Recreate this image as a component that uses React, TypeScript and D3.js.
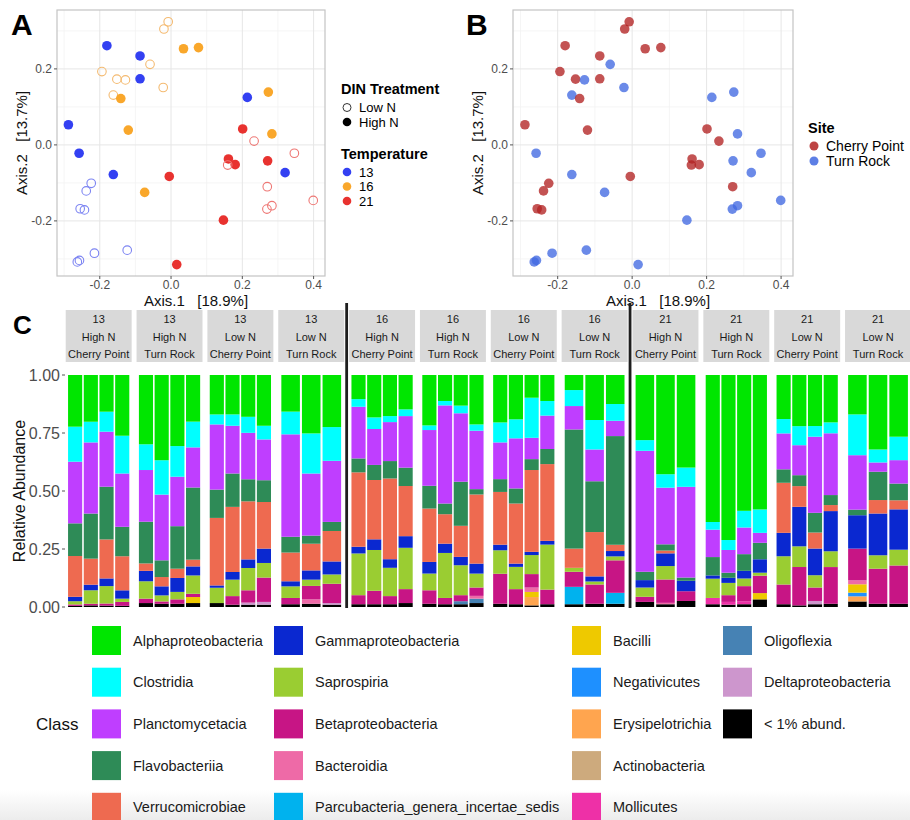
import React from "react";
import * as d3 from "d3";

// ---- panel A / B : ordination points ----
// t = temperature, n = DIN treatment, s = site
const ordPoints = [
  { x: -0.008, y: 0.324, t: 16, n: "Low", s: "CP" },
  { x: -0.02, y: 0.305, t: 16, n: "Low", s: "CP" },
  { x: -0.059, y: 0.212, t: 16, n: "Low", s: "TR" },
  { x: -0.194, y: 0.193, t: 16, n: "Low", s: "CP" },
  { x: -0.152, y: 0.173, t: 16, n: "Low", s: "CP" },
  { x: -0.128, y: 0.171, t: 16, n: "Low", s: "TR" },
  { x: -0.022, y: 0.151, t: 16, n: "Low", s: "TR" },
  { x: -0.162, y: 0.131, t: 16, n: "Low", s: "TR" },
  { x: 0.035, y: 0.253, t: 16, n: "High", s: "CP" },
  { x: 0.077, y: 0.256, t: 16, n: "High", s: "CP" },
  { x: -0.141, y: 0.122, t: 16, n: "High", s: "CP" },
  { x: -0.12, y: 0.039, t: 16, n: "High", s: "CP" },
  { x: -0.074, y: -0.125, t: 16, n: "High", s: "TR" },
  { x: 0.273, y: 0.139, t: 16, n: "High", s: "TR" },
  { x: 0.283, y: 0.029, t: 16, n: "High", s: "TR" },
  { x: -0.18, y: 0.261, t: 13, n: "High", s: "CP" },
  { x: -0.087, y: 0.234, t: 13, n: "High", s: "CP" },
  { x: -0.087, y: 0.174, t: 13, n: "High", s: "CP" },
  { x: 0.214, y: 0.125, t: 13, n: "High", s: "TR" },
  { x: -0.288, y: 0.053, t: 13, n: "High", s: "CP" },
  { x: -0.258, y: -0.022, t: 13, n: "High", s: "TR" },
  { x: -0.162, y: -0.078, t: 13, n: "High", s: "TR" },
  { x: 0.32, y: -0.073, t: 13, n: "High", s: "TR" },
  { x: -0.224, y: -0.101, t: 13, n: "Low", s: "CP" },
  { x: -0.238, y: -0.121, t: 13, n: "Low", s: "CP" },
  { x: -0.255, y: -0.168, t: 13, n: "Low", s: "CP" },
  { x: -0.243, y: -0.171, t: 13, n: "Low", s: "CP" },
  { x: -0.215, y: -0.285, t: 13, n: "Low", s: "TR" },
  { x: -0.123, y: -0.277, t: 13, n: "Low", s: "TR" },
  { x: -0.263, y: -0.308, t: 13, n: "Low", s: "TR" },
  { x: -0.257, y: -0.304, t: 13, n: "Low", s: "TR" },
  { x: 0.201, y: 0.042, t: 21, n: "High", s: "CP" },
  { x: 0.161, y: -0.037, t: 21, n: "High", s: "CP" },
  { x: 0.18, y: -0.052, t: 21, n: "High", s: "CP" },
  { x: 0.271, y: -0.042, t: 21, n: "High", s: "TR" },
  { x: -0.005, y: -0.083, t: 21, n: "High", s: "CP" },
  { x: 0.147, y: -0.198, t: 21, n: "High", s: "TR" },
  { x: 0.016, y: -0.315, t: 21, n: "High", s: "TR" },
  { x: 0.233, y: 0.01, t: 21, n: "Low", s: "CP" },
  { x: 0.346, y: -0.022, t: 21, n: "Low", s: "TR" },
  { x: 0.159, y: -0.053, t: 21, n: "Low", s: "CP" },
  { x: 0.27, y: -0.11, t: 21, n: "Low", s: "CP" },
  { x: 0.283, y: -0.16, t: 21, n: "Low", s: "TR" },
  { x: 0.269, y: -0.169, t: 21, n: "Low", s: "TR" },
  { x: 0.399, y: -0.146, t: 21, n: "Low", s: "TR" },
];

const ordXTicks = [-0.2, 0, 0.2, 0.4];
const ordXMinor = [-0.3, -0.1, 0.1, 0.3];
const ordYTicks = [-0.2, 0, 0.2];
const ordYMinor = [-0.3, -0.1, 0.1, 0.3];

const tempLevels = [13, 16, 21];
const tempFill = ["#3340F2", "#F9A72B", "#E8322F"];
const tempStroke = ["#7C84F2", "#F4BA70", "#EE7774"];
const dinLevels = ["Low N", "High N"];
const siteLevels = ["CP", "TR"];
const siteNames = ["Cherry Point", "Turn Rock"];
const siteColors = ["#B22222", "#4169E1"];

// ---- panel C : relative abundance ----
const classKeys = ["al", "cl", "pl", "fl", "ve", "ga", "sa", "be", "bd", "pa", "bc", "ne", "er", "ac", "mo", "ol", "de", "lo"];
const classNames = [
  "Alphaproteobacteria", "Clostridia", "Planctomycetacia", "Flavobacteriia", "Verrucomicrobiae",
  "Gammaproteobacteria", "Saprospiria", "Betaproteobacteria", "Bacteroidia", "Parcubacteria_genera_incertae_sedis",
  "Bacilli", "Negativicutes", "Erysipelotrichia", "Actinobacteria", "Mollicutes",
  "Oligoflexia", "Deltaproteobacteria", "< 1% abund.",
];
const classColors = [
  "#00E600", "#00FFFF", "#BF3EFF", "#2E8B57", "#EE6A50",
  "#0A28D0", "#9ACD32", "#C71585", "#EE6AA7", "#00B2EE",
  "#EEC900", "#1E90FF", "#FFA54F", "#CDAA7D", "#EE30A7",
  "#4682B4", "#CD96CD", "#000000",
];

const facetTemp = ["13", "13", "13", "13", "16", "16", "16", "16", "21", "21", "21", "21"];
const facetDin = ["High N", "High N", "Low N", "Low N", "High N", "High N", "Low N", "Low N", "High N", "High N", "Low N", "Low N"];
const facetSite = ["Cherry Point", "Turn Rock", "Cherry Point", "Turn Rock", "Cherry Point", "Turn Rock", "Cherry Point", "Turn Rock", "Cherry Point", "Turn Rock", "Cherry Point", "Turn Rock"];

// percent abundances per sample, f = facet index
const samples: any[] = [
  { f: 0, al: 22.3, cl: 15.1, pl: 26.6, fl: 14.1, ve: 17.6, ga: 1.9, sa: 1.4, be: 0.6, lo: 0.5 },
  { f: 0, al: 20.1, cl: 8.9, pl: 30.6, fl: 19.4, ve: 11.2, ga: 2.4, sa: 5.8, be: 0.7, lo: 0.7 },
  { f: 0, al: 15.8, cl: 8.6, pl: 23.7, fl: 22.7, ve: 16.8, ga: 3.3, sa: 7.5, be: 0.9, lo: 0.6 },
  { f: 0, al: 26.2, cl: 16.3, pl: 23.0, fl: 12.7, ve: 14.7, ga: 3.6, sa: 1.4, be: 1.7, lo: 0.5 },

  { f: 1, al: 29.9, cl: 11.1, pl: 22.3, fl: 18.0, ve: 3.2, ga: 4.5, sa: 7.5, be: 1.9, lo: 1.7 },
  { f: 1, al: 36.7, cl: 14.8, pl: 28.3, fl: 7.2, ve: 4.0, ga: 3.9, sa: 2.6, be: 1.0, lo: 1.4 },
  { f: 1, al: 30.6, cl: 13.2, pl: 21.3, fl: 18.3, ve: 4.0, ga: 6.0, sa: 3.2, be: 1.9, lo: 1.4 },
  { f: 1, al: 20.1, cl: 11.1, pl: 17.3, fl: 31.1, ve: 2.9, ga: 3.9, sa: 7.9, be: 1.4, bc: 2.6, lo: 1.7 },

  { f: 2, al: 17.0, cl: 4.3, pl: 28.1, fl: 12.2, ve: 29.1, ga: 1.0, sa: 6.6, lo: 1.7 },
  { f: 2, al: 17.0, cl: 4.9, pl: 20.6, fl: 14.4, ve: 28.1, ga: 3.3, sa: 7.1, be: 3.7, lo: 1.0 },
  { f: 2, al: 18.0, cl: 6.9, pl: 20.0, fl: 9.5, ve: 25.0, ga: 3.7, sa: 9.6, be: 5.3, de: 0.9, lo: 1.0 },
  { f: 2, al: 21.9, cl: 5.9, pl: 17.6, fl: 9.4, ve: 20.1, ga: 6.2, sa: 6.3, be: 10.5, de: 1.2, lo: 1.0 },

  { f: 3, al: 15.8, cl: 9.8, pl: 44.2, fl: 6.8, ve: 12.4, ga: 2.2, sa: 5.0, be: 2.7, lo: 1.2 },
  { f: 3, al: 25.2, cl: 17.3, pl: 26.8, fl: 3.5, ve: 11.5, ga: 4.0, sa: 2.7, be: 5.8, bd: 1.9, lo: 1.4 },
  { f: 3, al: 22.4, cl: 14.5, pl: 26.3, fl: 3.9, ve: 13.1, ga: 5.6, sa: 4.0, be: 8.3, de: 0.7, lo: 1.0 },

  { f: 4, al: 10.4, cl: 3.3, pl: 22.3, fl: 6.0, ve: 32.1, ga: 2.9, sa: 18.0, be: 3.9, lo: 1.2 },
  { f: 4, al: 18.3, cl: 5.0, pl: 15.5, fl: 6.5, ve: 25.6, ga: 4.6, sa: 17.6, be: 5.8, lo: 1.2 },
  { f: 4, al: 17.7, cl: 2.6, pl: 16.8, fl: 7.5, ve: 34.8, ga: 3.7, sa: 12.2, be: 3.5, lo: 1.2 },
  { f: 4, al: 14.8, cl: 2.9, pl: 22.2, fl: 7.9, ve: 21.6, ga: 5.0, sa: 17.8, be: 6.0, lo: 1.7 },

  { f: 5, al: 21.7, cl: 2.0, pl: 24.0, fl: 9.8, ve: 23.0, ga: 5.0, sa: 7.2, be: 5.8, lo: 1.4 },
  { f: 5, al: 11.2, cl: 1.9, pl: 42.3, fl: 4.6, ve: 12.7, ga: 4.0, sa: 19.4, be: 2.7, lo: 1.2 },
  { f: 5, al: 13.2, cl: 3.3, pl: 29.5, fl: 19.0, ve: 13.4, ga: 3.6, sa: 12.9, be: 2.6, ol: 1.3, lo: 1.2 },
  { f: 5, al: 21.3, cl: 2.7, pl: 25.2, fl: 2.3, ve: 29.8, ga: 4.3, sa: 6.0, be: 3.6, bd: 1.2, ol: 1.9, lo: 1.7 },

  { f: 6, al: 20.4, cl: 8.6, pl: 15.8, fl: 5.5, ve: 22.7, ga: 2.4, sa: 10.1, be: 12.9, lo: 1.4 },
  { f: 6, al: 19.1, cl: 8.2, pl: 21.6, fl: 6.5, ve: 25.9, ga: 1.4, sa: 9.6, be: 6.5, lo: 1.2 },
  { f: 6, al: 9.8, cl: 17.3, pl: 9.2, fl: 4.7, ve: 35.3, ga: 1.4, sa: 8.2, be: 5.8, bd: 1.9, bc: 2.2, er: 3.6, lo: 0.7 },
  { f: 6, al: 11.2, cl: 6.3, pl: 14.4, fl: 6.5, ve: 33.1, ga: 1.6, sa: 19.4, be: 6.3, lo: 1.2 },

  { f: 7, al: 6.5, cl: 6.9, pl: 10.1, fl: 51.4, ve: 8.3, sa: 1.7, be: 6.5, pa: 7.5, lo: 1.2 },
  { f: 7, al: 19.4, cl: 12.7, pl: 13.7, fl: 21.9, ve: 19.1, ga: 2.2, sa: 1.3, be: 8.3, lo: 1.4 },
  { f: 7, al: 12.5, cl: 7.2, pl: 6.6, fl: 46.8, ve: 2.7, ga: 2.3, sa: 1.7, be: 14.0, pa: 4.7, lo: 1.4 },

  { f: 8, al: 28.1, cl: 4.6, pl: 52.2, fl: 3.6, ga: 3.2, sa: 4.0, be: 2.2, lo: 2.2 },
  { f: 8, al: 42.9, cl: 5.8, pl: 24.5, fl: 2.7, ve: 1.2, ga: 5.5, sa: 5.8, be: 10.1, bd: 0.6, lo: 1.2 },
  { f: 8, al: 39.9, cl: 8.3, pl: 39.1, fl: 1.4, ga: 4.5, be: 4.2, lo: 2.6 },

  { f: 9, al: 63.3, cl: 3.3, pl: 11.8, fl: 7.9, ga: 1.4, sa: 8.3, mo: 2.7, lo: 1.2 },
  { f: 9, al: 71.2, cl: 4.3, pl: 9.8, fl: 2.2, ga: 2.2, sa: 5.3, be: 2.9, mo: 1.2, lo: 1.0 },
  { f: 9, al: 58.6, cl: 7.2, pl: 11.5, fl: 7.2, ga: 3.3, sa: 3.3, be: 6.5, mo: 1.3, lo: 1.2 },
  { f: 9, al: 58.0, cl: 10.1, pl: 4.3, fl: 7.1, ga: 5.8, sa: 1.3, be: 7.5, bc: 2.7, lo: 3.3 },

  { f: 10, al: 19.0, cl: 6.2, pl: 15.5, fl: 5.8, ve: 21.6, ga: 10.1, sa: 12.2, be: 8.5, lo: 1.2 },
  { f: 10, al: 22.0, cl: 8.2, pl: 12.9, fl: 4.7, ve: 8.9, ga: 17.0, sa: 8.9, be: 16.5, lo: 0.7 },
  { f: 10, al: 22.0, cl: 4.6, pl: 32.8, fl: 8.5, ve: 6.9, ga: 11.5, sa: 5.3, be: 5.8, de: 1.4, lo: 1.2 },
  { f: 10, al: 20.4, cl: 4.7, pl: 26.6, fl: 4.3, ve: 2.6, ga: 17.3, sa: 6.8, be: 15.8, lo: 1.4 },

  { f: 11, al: 17.0, cl: 17.6, pl: 23.5, fl: 2.4, ga: 14.4, be: 13.7, bd: 1.7, bc: 3.6, ne: 1.6, er: 2.2, lo: 2.4 },
  { f: 11, al: 32.1, cl: 5.6, pl: 4.0, fl: 12.2, ve: 5.8, ga: 18.0, sa: 5.8, be: 15.1, lo: 1.4 },
  { f: 11, al: 26.6, cl: 10.1, pl: 10.1, fl: 7.2, ve: 3.9, ga: 17.4, sa: 6.8, be: 16.5, lo: 1.4 },
];

const abundTicks = [0, 0.25, 0.5, 0.75, 1];

const FONT = "'Liberation Sans', Arial, Helvetica, sans-serif";

function Ordination({ x0, x1, fillOf, strokeOf, filledOf, opacity }: any) {
  const xs = d3.scaleLinear().domain([-0.32, 0.432]).range([x0, x1]);
  const ys = d3.scaleLinear().domain([-0.345, 0.355]).range([276, 10]);
  const [top, bottom] = [ys.range()[1], ys.range()[0]];
  return (
    <g>
      <rect x={x0} y={top} width={x1 - x0} height={bottom - top} fill="#fff" />
      {ordXMinor.map((v) => (
        <line key={"xm" + v} x1={xs(v)} x2={xs(v)} y1={top} y2={bottom} stroke="#F2F2F2" strokeWidth={0.8} />
      ))}
      {ordYMinor.map((v) => (
        <line key={"ym" + v} x1={x0} x2={x1} y1={ys(v)} y2={ys(v)} stroke="#F2F2F2" strokeWidth={0.8} />
      ))}
      {ordXTicks.map((v) => (
        <line key={"x" + v} x1={xs(v)} x2={xs(v)} y1={top} y2={bottom} stroke="#E6E6E6" strokeWidth={1} />
      ))}
      {ordYTicks.map((v) => (
        <line key={"y" + v} x1={x0} x2={x1} y1={ys(v)} y2={ys(v)} stroke="#E6E6E6" strokeWidth={1} />
      ))}
      {ordPoints.map((p, i) => {
        const filled = filledOf(p);
        return (
          <circle
            key={i}
            cx={xs(p.x)}
            cy={ys(p.y)}
            r={filled ? 4.8 : 4.3}
            fill={filled ? fillOf(p) : "none"}
            stroke={filled ? "none" : strokeOf(p)}
            strokeWidth={1.1}
            opacity={opacity}
          />
        );
      })}
      <rect x={x0} y={top} width={x1 - x0} height={bottom - top} fill="none" stroke="#C4C4C4" strokeWidth={1.2} />
      {ordXTicks.map((v) => (
        <g key={"xt" + v}>
          <line x1={xs(v)} x2={xs(v)} y1={bottom} y2={bottom + 3} stroke="#555" />
          <text x={xs(v)} y={288.5} textAnchor="middle" fontSize={12} fill="#4D4D4D">
            {d3.format(".1f")(v).replace("−", "-")}
          </text>
        </g>
      ))}
      {ordYTicks.map((v) => (
        <g key={"yt" + v}>
          <line x1={x0 - 3} x2={x0} y1={ys(v)} y2={ys(v)} stroke="#555" />
          <text x={x0 - 5} y={ys(v) + 4} textAnchor="end" fontSize={12} fill="#4D4D4D">
            {d3.format(".1f")(v).replace("−", "-")}
          </text>
        </g>
      ))}
      <text x={(x0 + x1) / 2 + 5} y={306} textAnchor="middle" fontSize={15} fill="#111" style={{ whiteSpace: "pre" }}>
        {"Axis.1   [18.9%]"}
      </text>
      <text
        transform={`translate(${x0 - 30},143) rotate(-90)`}
        textAnchor="middle"
        fontSize={15}
        fill="#111"
        style={{ whiteSpace: "pre" }}
      >
        {"Axis.2   [13.7%]"}
      </text>
    </g>
  );
}

function Abundance() {
  const panels = d3.scaleBand<number>().domain(d3.range(12)).range([65.7, 911]).paddingInner(0.069);
  const ys = d3.scaleLinear().domain([0, 1]).range([607, 375]);
  const stackKeys = classKeys.slice().reverse();
  const series = d3
    .stack<any>()
    .keys(stackKeys)
    .value((d, k) => d[k] || 0)
    .offset(d3.stackOffsetExpand)(samples);
  const colorOf = (k: string) => classColors[classKeys.indexOf(k)];

  const barPos = samples.map((s, i) => {
    const members = samples.map((d, j) => ({ d, j })).filter((o) => o.d.f === s.f);
    const idx = members.findIndex((o) => o.j === i);
    const px = panels(s.f) as number;
    const bs = d3.scaleBand<number>().domain(d3.range(members.length)).range([px, px + panels.bandwidth()]).paddingInner(0.1).paddingOuter(0.15);
    return { x: bs(idx) as number, w: bs.bandwidth() };
  });

  const sepX = [3, 7].map((f) => ((panels(f) as number) + panels.bandwidth() + (panels(f + 1) as number)) / 2);

  return (
    <g>
      {d3.range(12).map((f) => {
        const px = panels(f) as number;
        const cx = px + panels.bandwidth() / 2;
        return (
          <g key={"strip" + f}>
            <rect x={px} y={310} width={panels.bandwidth()} height={52} fill="#D9D9D9" />
            <text x={cx} y={323} textAnchor="middle" fontSize={11} fill="#1A1A1A">{facetTemp[f]}</text>
            <text x={cx} y={341} textAnchor="middle" fontSize={11} fill="#1A1A1A">{facetDin[f]}</text>
            <text x={cx} y={358} textAnchor="middle" fontSize={11} fill="#1A1A1A">{facetSite[f]}</text>
          </g>
        );
      })}
      {series.map((ser) => (
        <g key={ser.key} fill={colorOf(ser.key)}>
          {ser.map((seg, i) =>
            seg[1] - seg[0] > 0 ? (
              <rect key={i} x={barPos[i].x} width={barPos[i].w} y={ys(seg[1])} height={ys(seg[0]) - ys(seg[1])} />
            ) : null
          )}
        </g>
      ))}
      {sepX.map((x) => (
        <line key={x} x1={x} x2={x} y1={303} y2={608} stroke="#1E1E1E" strokeWidth={2.8} />
      ))}
      {abundTicks.map((v) => (
        <g key={v}>
          <line x1={62} x2={65} y1={ys(v)} y2={ys(v)} stroke="#555" />
          <text x={60} y={ys(v) + 6} textAnchor="end" fontSize={16} fill="#4D4D4D">
            {d3.format(".2f")(v)}
          </text>
        </g>
      ))}
      <text transform="translate(25,491) rotate(-90)" textAnchor="middle" fontSize={16} fill="#111">
        Relative Abundance
      </text>
    </g>
  );
}

function ClassLegend() {
  const colX = [92, 274, 572, 723];
  return (
    <g>
      <text x={36} y={730} fontSize={17} fill="#111">Class</text>
      {classNames.map((name, i) => {
        const col = Math.floor(i / 5);
        const row = i % 5;
        const x = colX[col];
        const y = 626 + row * 41.7;
        return (
          <g key={name}>
            <rect x={x} y={y} width={29} height={29} fill={classColors[i]} />
            <text x={x + 41} y={y + 19.5} fontSize={14.5} fill="#1A1A1A">{name}</text>
          </g>
        );
      })}
    </g>
  );
}

export default function App() {
  const tIdx = (p: any) => tempLevels.indexOf(p.t);
  const sIdx = (p: any) => siteLevels.indexOf(p.s);
  return (
    <svg
      width={910}
      height={820}
      style={{ position: "absolute", left: 0, top: 0, display: "block", fontFamily: FONT }}
    >
      <defs>
        <linearGradient id="fade" x1="0" y1="0" x2="0" y2="1">
          <stop offset="0" stopColor="#fff" />
          <stop offset="1" stopColor="#ECECEC" />
        </linearGradient>
      </defs>
      <rect width={910} height={820} fill="#fff" />
      <rect x={0} y={790} width={910} height={30} fill="url(#fade)" />

      <Ordination
        x0={57}
        x1={325}
        fillOf={(p: any) => tempFill[tIdx(p)]}
        strokeOf={(p: any) => tempStroke[tIdx(p)]}
        filledOf={(p: any) => p.n === "High"}
        opacity={1}
      />
      <Ordination
        x0={513}
        x1={793}
        fillOf={(p: any) => siteColors[sIdx(p)]}
        strokeOf={(p: any) => siteColors[sIdx(p)]}
        filledOf={() => true}
        opacity={0.78}
      />

      <text x={11} y={35} fontSize={30} fontWeight="bold" fill="#000">A</text>
      <text x={466} y={35} fontSize={30} fontWeight="bold" fill="#000">B</text>
      <text x={13} y={334} fontSize={26} fontWeight="bold" fill="#000">C</text>

      {/* DIN / Temperature legend */}
      <g>
        <text x={341} y={94} fontSize={14.5} fontWeight="bold" fill="#000">DIN Treatment</text>
        {dinLevels.map((d, i) => (
          <g key={d}>
            <circle
              cx={347}
              cy={107.5 + i * 14.5}
              r={i === 0 ? 4 : 4.3}
              fill={i === 0 ? "none" : "#000"}
              stroke={i === 0 ? "#333" : "none"}
              strokeWidth={1}
            />
            <text x={359} y={112 + i * 14.5} fontSize={13} fill="#000">{d}</text>
          </g>
        ))}
        <text x={341} y={159} fontSize={14.5} fontWeight="bold" fill="#000">Temperature</text>
        {tempLevels.map((t, i) => (
          <g key={t}>
            <circle cx={347} cy={172 + i * 14.5} r={4.3} fill={tempFill[i]} />
            <text x={359} y={176.5 + i * 14.5} fontSize={13} fill="#000">{t}</text>
          </g>
        ))}
      </g>

      {/* Site legend */}
      <g>
        <text x={808} y={133} fontSize={14.5} fontWeight="bold" fill="#000">Site</text>
        {siteNames.map((s, i) => (
          <g key={s}>
            <circle cx={814} cy={146 + i * 15} r={4.5} fill={siteColors[i]} opacity={0.85} />
            <text x={826} y={151 + i * 15} fontSize={14} fill="#000">{s}</text>
          </g>
        ))}
      </g>

      <Abundance />
      <ClassLegend />
    </svg>
  );
}
